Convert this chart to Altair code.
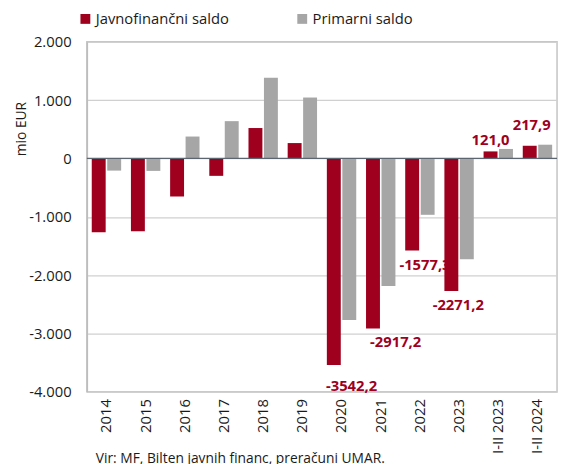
import altair as alt
import pandas as pd

categories = ["2014", "2015", "2016", "2017", "2018", "2019", "2020", "2021",
              "2022", "2023", "I-II 2023", "I-II 2024"]
javnofinancni = [-1264, -1247, -652, -298, 522, 264, -3542.2, -2917.2,
                 -1577.3, -2271.2, 121.0, 217.9]
primarni = [-208, -213, 376, 640, 1382, 1045, -2770, -2185, -966, -1730, 163, 236]

series_names = ["Javnofinančni saldo", "Primarni saldo"]
series_colors = ["#9e001e", "#a6a6a6"]

label_cats = ["2020", "2021", "2022", "2023", "I-II 2023", "I-II 2024"]
label_texts = ["-3542,2", "-2917,2", "-1577,3", "-2271,2", "121,0", "217,9"]
# label nudges (style): dx, dy in pixels
label_dx = [18, 23, 13, 7, 0, 2]
label_dy = [21, 14, 15, 14, -12, -21]

FONT = "Open Sans"

rows = []
for c, v in zip(categories, javnofinancni):
    rows.append({"cat": c, "series": series_names[0], "value": v})
for c, v in zip(categories, primarni):
    rows.append({"cat": c, "series": series_names[1], "value": v})
df = pd.DataFrame(rows)

lab = pd.DataFrame({
    "cat": label_cats,
    "series": series_names[0],
    "value": [javnofinancni[categories.index(c)] for c in label_cats],
    "text": label_texts,
})

x_enc = alt.X("cat:N", sort=categories, title=None,
              scale=alt.Scale(paddingInner=0.25, paddingOuter=0.125),
              axis=alt.Axis(labelAngle=-90, labelAlign="right", labelBaseline="middle",
                            labelPadding=7, ticks=False, domain=False,
                            labelFontSize=15, labelColor="#1a1a1a", labelFont=FONT))
y_scale = alt.Scale(domain=[-4000, 2000], nice=False)
y_enc = alt.Y("value:Q", scale=y_scale, title="mio EUR",
              axis=alt.Axis(values=[-4000, -3000, -2000, -1000, 0, 1000, 2000],
                            labelExpr="(datum.value < 0 ? '-' : '') + replace(format(abs(datum.value), ','), ',', '.')",
                            labelFontSize=15, labelColor="#1a1a1a", labelFont=FONT,
                            labelPadding=16, ticks=False,
                            domainColor="#bdbdbd", domainWidth=1.5,
                            gridColor="#d0d0d0", gridWidth=1.3,
                            titleFontSize=14, titleFont=FONT, titleFontWeight="normal",
                            titleColor="#1a1a1a", titleAngle=-90,
                            titleX=-66, titleY=88, titleAlign="center",
                            titleBaseline="middle"))

bars = alt.Chart(df).mark_bar().encode(
    x=x_enc,
    xOffset=alt.XOffset("series:N", sort=series_names,
                        scale=alt.Scale(paddingInner=0.1)),
    y=y_enc,
    color=alt.Color("series:N", sort=series_names,
                    scale=alt.Scale(domain=series_names, range=series_colors),
                    legend=alt.Legend(title=None, orient="none", direction="horizontal",
                                      legendX=-9, legendY=-31,
                                      symbolType="square", symbolSize=100,
                                      symbolStrokeWidth=0, labelFontSize=15,
                                      labelFont=FONT, labelColor="#1a1a1a",
                                      labelOffset=3, columnPadding=66,
                                      labelLimit=300)),
)

zero = alt.Chart(pd.DataFrame({"z": [0]})).mark_rule(color="#5b6670", strokeWidth=1.3).encode(
    y=alt.Y("z:Q", scale=y_scale)
)

layers = [bars, zero]
for c, t, dx, dy in zip(label_cats, label_texts, label_dx, label_dy):
    layers.append(
        alt.Chart(lab).transform_filter(alt.datum.cat == c).mark_text(
            font=FONT, fontSize=15, fontWeight="bold", color="#9e001e",
            dx=dx, dy=dy, baseline="middle", align="center"
        ).encode(
            x=alt.X("cat:N", sort=categories),
            xOffset=alt.XOffset("series:N", sort=series_names),
            y=alt.Y("value:Q", scale=y_scale),
            text="text:N",
        )
    )

chart = alt.layer(*layers).properties(
    width=477, height=355,
    autosize=alt.AutoSizeParams(type="none"),
    padding={"left": 80, "top": 31, "right": 3, "bottom": 72},
    title=alt.TitleParams("Vir: MF, Bilten javnih financ, preračuni UMAR.",
                          orient="bottom", anchor="start", frame="group",
                          fontSize=14, font=FONT, fontWeight="normal",
                          color="#1a1a1a", offset=-1, dx=9),
).resolve_scale(x="shared", y="shared").configure_view(
    stroke="#c4c4c4", strokeWidth=1.5
)

chart.save("out.html", embed_options={"renderer": "svg", "actions": False})
